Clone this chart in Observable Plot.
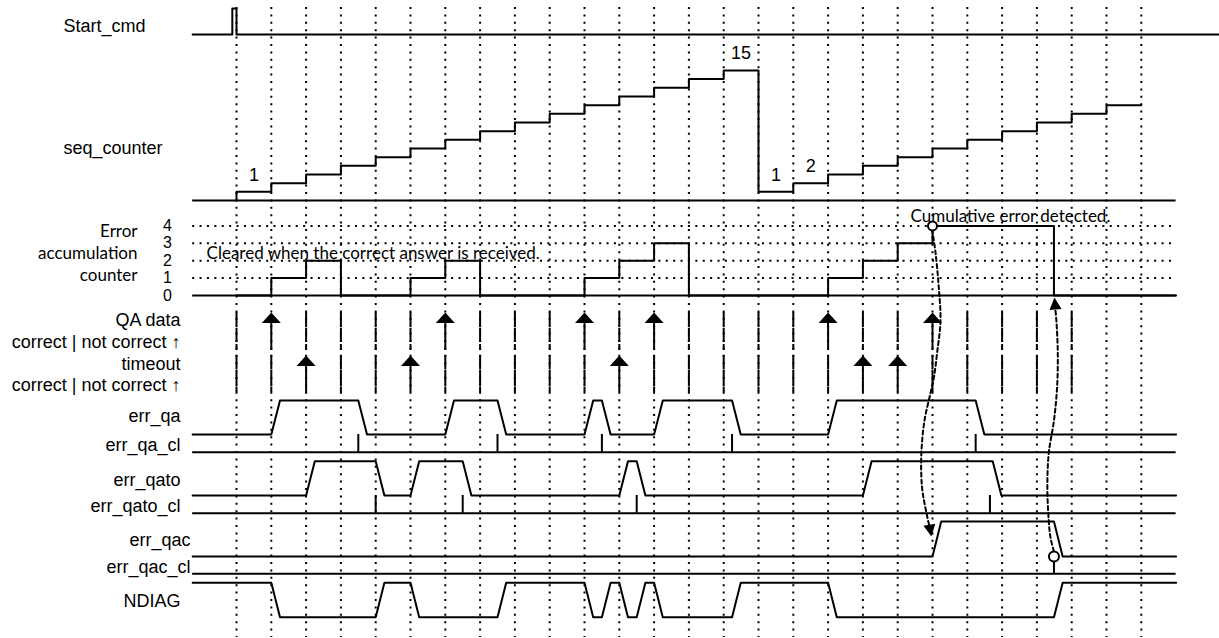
<!DOCTYPE html>
<html><head><meta charset="utf-8">
<script src="https://cdn.jsdelivr.net/npm/d3@7"></script>
<script src="https://cdn.jsdelivr.net/npm/@observablehq/plot@0.6"></script>
<style>html,body{margin:0;padding:0;background:#fff;}</style>
</head><body><div id="chart"></div>
<script>
// ---------------- DATA (time in clock periods) ----------------
const gridTicks = d3.range(0, 27);                 // dotted period markers 0..26
const startCmdHigh = [[-0.12, 0]];                 // Start_cmd pulse
const seqCounter = [1,2,3,4,5,6,7,8,9,10,11,12,13,14,15,1,2,3,4,5,6,7,8,9,10,11];
const seqLabelIdx = [0, 14, 15, 16];               // periods whose value is written
const errTimes  = [0,1,2,3,5,6,7,10,11,12,13,17,18,19,20,23.49,27];
const errValues = [0,1,2,0,1,2,0,1,2,3,0,1,2,3,4,0,0];
const errLevels = [0,1,2,3,4];
const qaTicks = d3.range(0, 25);
const qaArrows = [1,6,10,12,17,20];                // QA data: not correct
const timeoutArrows = [2,5,11,18,19];              // timeout: not correct
const errQa    = [[1,3.5],[6,7.5],[10,10.5],[12,14.24],[17,21.24]];
const errQaCl  = [3.5,7.5,10.5,14.24,21.24];
const errQato  = [[2,4],[5,6.5],[11,11.5],[18,21.73]];
const errQatoCl= [4,6.5,11.5,21.65];
const errQac   = [[20,23.49]];
const errQacCl = [23.49];
const ndiagLow = [[1,4],[5,7.5],[10,10.5],[11,11.5],[12,14.24],[17,23.49]];
const labelsSignals = ["QA data","correct | not correct \u2191","timeout","correct | not correct \u2191",
  "err_qa","err_qa_cl","err_qato","err_qato_cl","NDIAG"];
const labelsQac = ["err_qac","err_qac_cl"];
const labelsTop = ["Start_cmd","seq_counter"];
const labelsErr = ["Error","accumulation","counter"];
const noteCleared = "Cleared when the correct answer is received.";
const noteCumulative = "Cumulative error detected.";

// ---------------- LAYOUT (pixels) ----------------
const SLOPE = 0.25, T0 = -1.26, T1 = 27, T1_START = 28.25;
const rows = {
  start:{base:34,amp:26}, seq:{base:200,amp:8.67}, err:{base:295,amp:17.4},
  errQa:{base:434,amp:34}, errQaCl:{base:451.7,amp:17.7},
  errQato:{base:495,amp:34.3}, errQatoCl:{base:512.7,amp:17.7},
  errQac:{base:556,amp:35}, errQacCl:{base:573.3,amp:12.3},
  ndiag:{base:616.7,amp:34.4}
};
const qaRow = {top:312, bottom:350}, toRow = {top:355, bottom:392};
const lvl = (row, v) => row.base - v*row.amp;
const labelY = {signals:[320,341.7,363.3,385,416,445,480,506,601], qac:[540,566.7], top:[26,148], err:[231,253,275]};

function wave(intervals, slope, t0, t1, row, invert=false) {
  const f = v => lvl(row, invert ? 1 - v : v);
  const pts = [{t:t0, y:f(0)}];
  for (const [a,b] of intervals) pts.push({t:a,y:f(0)},{t:a+slope,y:f(1)},{t:b,y:f(1)},{t:b+slope,y:f(0)});
  pts.push({t:t1, y:f(0)});
  return pts;
}
function arrowSymbol(w, h, deg) {
  const a = deg*Math.PI/180, c = Math.cos(a), s = Math.sin(a);
  const p = [[0,0],[w/2,h],[-w/2,h]].map(([x,y]) => [x*c - y*s, x*s + y*c]);
  return {draw(ctx){ ctx.moveTo(...p[0]); ctx.lineTo(...p[1]); ctx.lineTo(...p[2]); ctx.closePath(); }};
}
const bigArrow = arrowSymbol(19, 10.5, 0);

// derived
const seqPts = [{t:0,y:lvl(rows.seq,0)}].concat(seqCounter.map((v,i)=>({t:i,y:lvl(rows.seq,v)})), [{t:seqCounter.length,y:lvl(rows.seq,seqCounter[seqCounter.length-1])}]);
const errPts = errTimes.map((t,i)=>({t, y:lvl(rows.err, errValues[i])}));
const curve1 = [[19.99,229],[20.09,253],[20.18,287],[20.23,320],[20.13,353],[20.04,377],[19.94,393],[19.77,420],[19.68,453],[19.70,487],[19.83,513],[19.90,524]].map(([t,y])=>({t,y}));
const curve2 = [[23.49,551],[23.39,537],[23.34,520],[23.30,487],[23.34,453],[23.49,420],[23.58,387],[23.60,353],[23.56,320],[23.53,309]].map(([t,y])=>({t,y}));

const SANS = "Liberation Sans, Arial, sans-serif", CAL = "Lato, Carlito, sans-serif";
const LW = 2;

const chart = Plot.plot({
  width: 1219, height: 638, margin: 0,
  x: {domain:[0,26], range:[236, 236 + 26*34.8], axis:null},
  y: {domain:[0,638], range:[0,638], axis:null},
  style: {background:"#fff", overflow:"visible"},
  marks: [
    // dotted grid
    Plot.ruleX(gridTicks, {x:d=>d, y1:7, y2:637, stroke:"#000", strokeWidth:2, strokeDasharray:"2,5.4"}),
    Plot.ruleY(errLevels.filter(v=>v>0), {y:v=>lvl(rows.err,v), x1:T0, x2:T1, stroke:"#000", strokeWidth:2, strokeDasharray:"2,5.4"}),
    // Start_cmd
    Plot.line(wave(startCmdHigh, 0, T0, T1_START, rows.start), {x:"t", y:"y", strokeWidth:LW}),
    // seq_counter
    Plot.ruleY([0], {y:v=>lvl(rows.seq,v), x1:T0, x2:T1, strokeWidth:LW}),
    Plot.line(seqPts, {x:"t", y:"y", curve:"step-after", strokeWidth:LW}),
    Plot.text(seqLabelIdx, {x:i=>i+0.5, y:i=>lvl(rows.seq, seqCounter[i]), text:i=>String(seqCounter[i]), dy:-17, fontSize:18, fontFamily:SANS}),
    // error accumulation counter
    Plot.ruleY([0], {y:v=>lvl(rows.err,v), x1:T0, x2:T1, strokeWidth:LW}),
    Plot.line(errPts, {x:"t", y:"y", curve:"step-after", strokeWidth:LW}),
    // QA data / timeout rows
    Plot.ruleX(qaTicks.filter(t=>!qaArrows.includes(t)), {x:d=>d, y1:qaRow.top, y2:qaRow.bottom, strokeWidth:LW, strokeDasharray:"14,2"}),
    Plot.ruleX(qaArrows, {x:d=>d, y1:qaRow.top+10, y2:qaRow.bottom, strokeWidth:LW}),
    Plot.dot(qaArrows, {x:d=>d, y:()=>qaRow.top, symbol:bigArrow, fill:"#000", stroke:null}),
    Plot.ruleX(qaTicks.filter(t=>!timeoutArrows.includes(t)), {x:d=>d, y1:toRow.top, y2:toRow.bottom, strokeWidth:LW, strokeDasharray:"14,2"}),
    Plot.ruleX(timeoutArrows, {x:d=>d, y1:toRow.top+10, y2:toRow.bottom, strokeWidth:LW}),
    Plot.dot(timeoutArrows, {x:d=>d, y:()=>toRow.top, symbol:bigArrow, fill:"#000", stroke:null}),
    // err_qa / err_qa_cl
    Plot.line(wave(errQa, SLOPE, T0, T1, rows.errQa), {x:"t", y:"y", strokeWidth:LW}),
    Plot.ruleY([0], {y:v=>lvl(rows.errQaCl,v), x1:T0, x2:T1, strokeWidth:LW}),
    Plot.ruleX(errQaCl, {x:d=>d, y1:lvl(rows.errQaCl,0), y2:lvl(rows.errQaCl,1), strokeWidth:LW}),
    // err_qato / err_qato_cl
    Plot.line(wave(errQato, SLOPE, T0, T1, rows.errQato), {x:"t", y:"y", strokeWidth:LW}),
    Plot.ruleY([0], {y:v=>lvl(rows.errQatoCl,v), x1:T0, x2:T1, strokeWidth:LW}),
    Plot.ruleX(errQatoCl, {x:d=>d, y1:lvl(rows.errQatoCl,0), y2:lvl(rows.errQatoCl,1), strokeWidth:LW}),
    // err_qac / err_qac_cl
    Plot.line(wave(errQac, SLOPE, T0, T1, rows.errQac), {x:"t", y:"y", strokeWidth:LW}),
    Plot.ruleY([0], {y:v=>lvl(rows.errQacCl,v), x1:T0, x2:T1, strokeWidth:LW}),
    Plot.ruleX(errQacCl, {x:d=>d, y1:lvl(rows.errQacCl,0), y2:lvl(rows.errQacCl,1), strokeWidth:LW}),
    // NDIAG
    Plot.line(wave(ndiagLow, SLOPE, T0, T1, rows.ndiag, true), {x:"t", y:"y", strokeWidth:LW}),
    // causal dashed arrows
    Plot.line(curve1, {x:"t", y:"y", curve:"catmull-rom", strokeWidth:2, strokeDasharray:"4,3"}),
    Plot.line(curve2, {x:"t", y:"y", curve:"catmull-rom", strokeWidth:2, strokeDasharray:"4,3"}),
    Plot.dot([errQac[0][0]], {x:d=>d-0.03, y:()=>536, symbol:arrowSymbol(12,12,170), fill:"#000", stroke:null}),
    Plot.dot([errQacCl[0]], {x:d=>d+0.015, y:()=>297, symbol:arrowSymbol(12,12,-5), fill:"#000", stroke:null}),
    Plot.dot([errQac[0][0]], {x:d=>d, y:()=>lvl(rows.err,4), r:4.5, fill:"#fff", stroke:"#000", strokeWidth:2}),
    Plot.dot(errQacCl, {x:d=>d, y:()=>lvl(rows.errQac,0), r:5, fill:"#fff", stroke:"#000", strokeWidth:2}),
    // labels
    Plot.text(labelsTop, {frameAnchor:"left", dx:63, y:(d,i)=>labelY.top[i], text:d=>d, textAnchor:"start", fontSize:18, fontFamily:SANS}),
    Plot.text(labelsSignals, {frameAnchor:"left", dx:180, y:(d,i)=>labelY.signals[i], text:d=>d, textAnchor:"end", fontSize:18, fontFamily:SANS}),
    Plot.text(labelsQac, {frameAnchor:"left", dx:190, y:(d,i)=>labelY.qac[i], text:d=>d, textAnchor:"end", fontSize:18, fontFamily:SANS}),
    Plot.text(labelsErr, {frameAnchor:"left", dx:137, y:(d,i)=>labelY.err[i], text:d=>d, textAnchor:"end", fontSize:17, fontFamily:CAL}),
    Plot.text(errLevels, {frameAnchor:"left", dx:167, y:v=>lvl(rows.err,v), text:v=>String(v), textAnchor:"middle", fontSize:16, fontFamily:SANS}),
    Plot.text([noteCleared], {x:-0.86, y:()=>253, text:d=>d, textAnchor:"start", fontSize:17, fontFamily:CAL}),
    Plot.text([noteCumulative], {x:19.37, y:()=>216, text:d=>d, textAnchor:"start", fontSize:17, fontFamily:CAL})
  ]
});
document.getElementById("chart").appendChild(chart);
</script>
</body></html>
